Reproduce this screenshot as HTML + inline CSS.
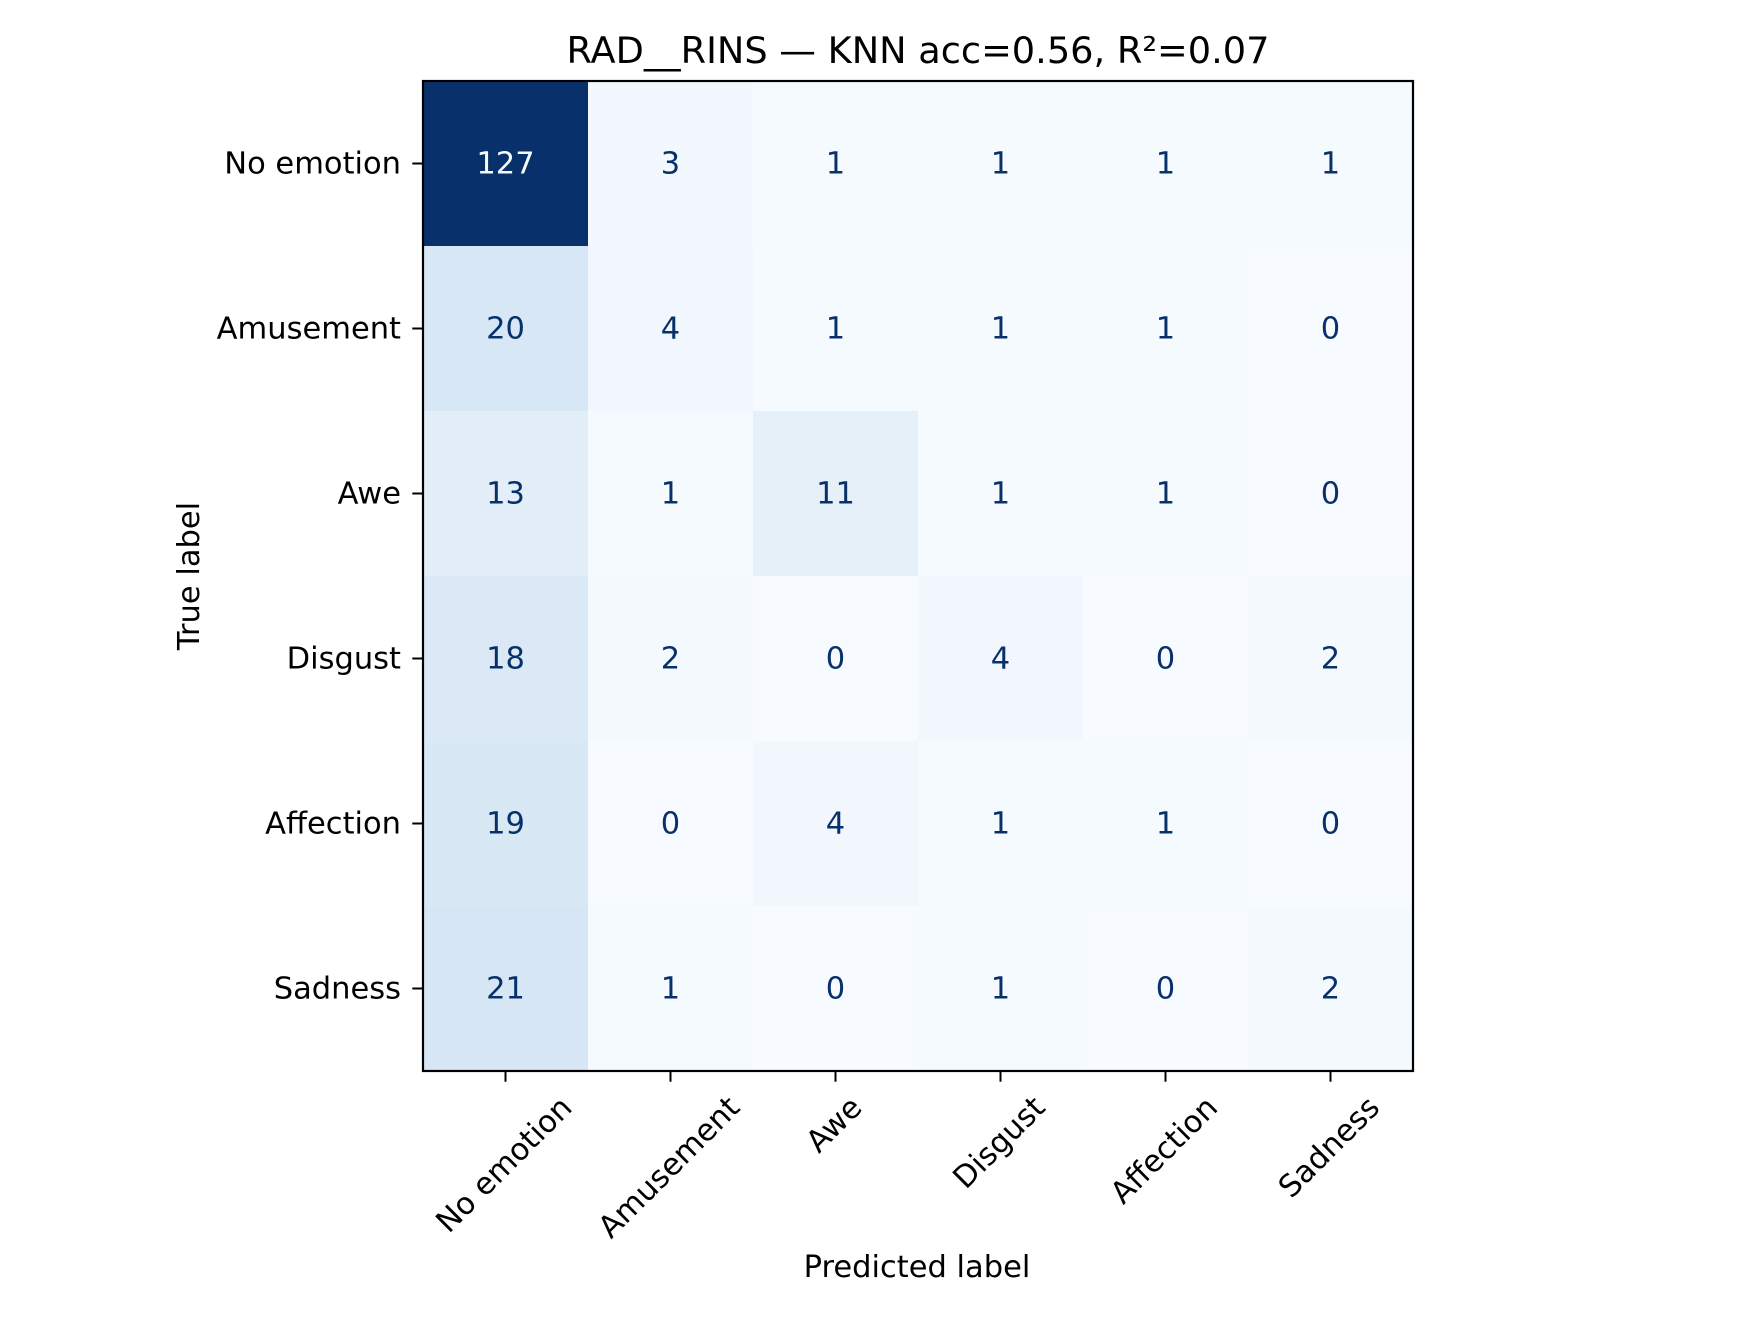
<!DOCTYPE html>
<html><head><meta charset="utf-8"><style>
html,body{margin:0;padding:0;background:#fff;}
svg{display:block;font-family:"DejaVu Sans","Liberation Sans",sans-serif;}
</style></head><body>
<svg id="chart" width="1760" height="1320" viewBox="0 0 1760 1320" xmlns="http://www.w3.org/2000/svg">
<rect width="1760" height="1320" fill="#fff"/>
<text x="918" y="63" font-size="36.7" text-anchor="middle" fill="#000">RAD__RINS — KNN acc=0.56, R²=0.07</text>
<g id="cells"></g>
<g id="labels"></g>
<rect x="423" y="81" width="990" height="990" fill="none" stroke="#000" stroke-width="2.2"/>
<g id="axes"></g>
<text transform="translate(199,576) rotate(-90)" font-size="30.5" text-anchor="middle" fill="#000">True label</text>
<text x="917" y="1277" font-size="30.5" text-anchor="middle" fill="#000">Predicted label</text>
</svg>
<script>
const categories = ["No emotion","Amusement","Awe","Disgust","Affection","Sadness"];
const row0 = [127,3,1,1,1,1];
const row1 = [20,4,1,1,1,0];
const row2 = [13,1,11,1,1,0];
const row3 = [18,2,0,4,0,2];
const row4 = [19,0,4,1,1,0];
const row5 = [21,1,0,1,0,2];
const matrix = [row0,row1,row2,row3,row4,row5];

const NS = "http://www.w3.org/2000/svg";
const X0 = 423, Y0 = 81, W = 990, H = 990;
const n = categories.length;
const cw = W / n, ch = H / n;
const xPos = i => X0 + i * cw;
const yPos = i => Y0 + i * ch;
const xCenter = i => xPos(i) + cw / 2;
const yCenter = i => yPos(i) + ch / 2;

const stops = ["#f7fbff","#deebf7","#c6dbef","#9ecae1","#6baed6","#4292c6","#2171b5","#08519c","#08306b"];
function hex(c){return [parseInt(c.slice(1,3),16),parseInt(c.slice(3,5),16),parseInt(c.slice(5,7),16)];}
function blues(t){
  t = Math.max(0, Math.min(1, t));
  const p = t * (stops.length - 1), i = Math.min(Math.floor(p), stops.length - 2), f = p - i;
  const a = hex(stops[i]), b = hex(stops[i+1]);
  return "rgb(" + a.map((v,k)=>Math.round(v + (b[k]-v)*f)).join(",") + ")";
}
let vmax = 0, vmin = Infinity;
matrix.forEach(r => r.forEach(v => { vmax = Math.max(vmax, v); vmin = Math.min(vmin, v); }));
const thresh = (vmax + vmin) / 2;

const cells = document.getElementById("cells");
const labels = document.getElementById("labels");
matrix.forEach((row, r) => row.forEach((v, c) => {
  const rect = document.createElementNS(NS, "rect");
  
  
  rect.setAttribute("x", xPos(c)); rect.setAttribute("y", yPos(r));
  rect.setAttribute("width", cw + 0.5); rect.setAttribute("height", ch + 0.5);
  rect.setAttribute("fill", blues((v - vmin) / (vmax - vmin)));
  cells.appendChild(rect);
  const t = document.createElementNS(NS, "text");
  
  
  t.setAttribute("x", xCenter(c)); t.setAttribute("y", yCenter(r) + 10);
  t.setAttribute("font-size", "30.5"); t.setAttribute("text-anchor", "middle");
  t.setAttribute("fill", v > thresh ? "#f7fbff" : "#08306b");
  t.textContent = v;
  labels.appendChild(t);
}));

const axes = document.getElementById("axes");
categories.forEach((name, i) => {
  const yt = document.createElementNS(NS, "line");
  
  
  yt.setAttribute("x1", X0 - 10.7); yt.setAttribute("x2", X0);
  yt.setAttribute("y1", yCenter(i)); yt.setAttribute("y2", yCenter(i));
  yt.setAttribute("stroke", "#000"); yt.setAttribute("stroke-width", "2");
  axes.appendChild(yt);
  const yl = document.createElementNS(NS, "text");
  
  
  yl.setAttribute("x", 401); yl.setAttribute("y", yCenter(i) + 10);
  yl.setAttribute("font-size", "30.5"); yl.setAttribute("text-anchor", "end");
  yl.textContent = name;
  axes.appendChild(yl);

  const xt = document.createElementNS(NS, "line");
  
  
  xt.setAttribute("x1", xCenter(i)); xt.setAttribute("x2", xCenter(i));
  xt.setAttribute("y1", Y0 + H); xt.setAttribute("y2", Y0 + H + 10.7);
  xt.setAttribute("stroke", "#000"); xt.setAttribute("stroke-width", "2");
  axes.appendChild(xt);
  const xl = document.createElementNS(NS, "text");
  
  
  xl.setAttribute("font-size", "30.5"); xl.setAttribute("text-anchor", "middle");
  xl.setAttribute("dominant-baseline", "central");
  xl.textContent = name;
  axes.appendChild(xl);
  const w = xl.getComputedTextLength ? xl.getComputedTextLength() : name.length * 17;
  const h = 30;
  const top = Y0 + H + 21;
  const cy = top + (w + h) / (2 * Math.SQRT2);
  xl.setAttribute("transform", "translate(" + (xCenter(i) - 1) + "," + cy + ") rotate(-45)");
});
</script>
</body></html>
